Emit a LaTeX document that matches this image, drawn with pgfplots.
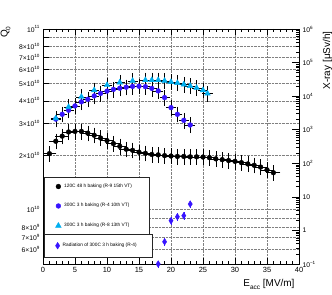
\documentclass[border=0pt]{standalone}
\usepackage{fontspec}
\setmainfont{Liberation Sans}
\usepackage{pgfplots}
\pgfplotsset{compat=1.18}
\definecolor{rblue}{RGB}{55,20,255}
\definecolor{rcyan}{RGB}{0,175,240}
\newcommand\sx[1]{\raisebox{0.45em}{\fontsize{4.6}{5}\selectfont #1}}
\newcommand\lf{\fontsize{4.8}{5.5}\selectfont}
\begin{document}
\begin{tikzpicture}
\useasboundingbox (0,0) rectangle (332bp,295bp);
\begin{axis}[
  at={(43bp,31bp)}, anchor=south west, width=256bp, height=235bp, scale only axis,
  xmin=0, xmax=40, ymode=log, ymin=5e9, ymax=1e11,
  xtick={0,5,...,40}, xticklabels={0,5,10,15,20,25,30,35,40},
  minor x tick num=4, xtick pos=both, xticklabel pos=lower,
  ytick pos=left,
  ytick={5e9,6e9,7e9,8e9,9e9,1e10,2e10,3e10,4e10,5e10,6e10,7e10,8e10,9e10,1e11},
  yticklabels={,6×10\sx{9},7×10\sx{9},8×10\sx{9},,10\sx{10},2×10\sx{10},3×10\sx{10},4×10\sx{10},5×10\sx{10},6×10\sx{10},7×10\sx{10},8×10\sx{10},,10\sx{11}},
  minor y tick style={draw=none},
  tick align=inside, major tick length=6bp, minor tick length=3bp,
  tick style={black, line width=0.6pt},
  axis line style={line width=0.9pt},
  xmajorgrids, ymajorgrids, grid style={densely dotted, black!50, line width=0.6pt},
  xticklabel style={font=\fontsize{7.5}{8}\selectfont},
  yticklabel style={font=\fontsize{6.8}{7}\selectfont},
  legend style={at={(0.004,0.370)}, anchor=north west, draw=black!85, line width=1pt,
    fill=white, inner xsep=11bp, inner ysep=6bp, row sep=13.5bp, font=\lf,
    nodes={inner sep=0.5bp},
    /tikz/every odd column/.append style={column sep=2.5bp}},
  legend cell align=left,
  legend image code/.code={\draw[#1, line width=0.4pt] plot coordinates {(0bp,0bp)};},
]
\addplot[only marks, mark=*, mark size=2.4bp, black, mark options={fill=black},
  error bars/.cd, y dir=both, y fixed relative=0.085, x dir=both, x fixed=0.9,
  error bar style={black, line width=0.6pt},
  error mark options={black, mark size=1.2bp, line width=0.6pt}]
coordinates {
(1,2.04e10) (2,2.39e10) (3,2.55e10) (4,2.69e10) (5,2.71e10) (6,2.71e10)
(7,2.65e10) (8,2.58e10) (9,2.49e10) (10,2.41e10) (11,2.32e10) (12,2.24e10)
(13,2.16e10) (14,2.13e10) (15,2.08e10) (16,2.05e10) (17,2.02e10) (18,2.01e10)
(19,1.99e10) (20,1.98e10) (21,1.97e10) (22,1.97e10) (23,1.96e10) (24,1.96e10)
(25,1.955e10) (26,1.94e10) (27,1.91e10) (28,1.89e10) (29,1.87e10) (30,1.85e10)
(31,1.82e10) (32,1.79e10) (33,1.76e10) (34,1.72e10) (35,1.66e10) (36,1.60e10)
};
\addlegendentry{\makebox[74bp][l]{120C 48 h baking (R-9 15th VT)}}
\addplot[only marks, mark=*, mark size=2.4bp, rblue, mark options={fill=rblue, draw=rblue},
  error bars/.cd, y dir=both, y fixed relative=0.085, x dir=both, x fixed=0.6,
  error bar style={black, line width=0.6pt},
  error mark options={black, mark size=1.2bp, line width=0.6pt}]
coordinates {
(2,3.17e10) (3,3.37e10) (4,3.55e10) (5,3.75e10) (6,3.95e10) (7,4.08e10)
(8,4.26e10) (9,4.40e10) (10,4.53e10) (11,4.63e10) (12,4.70e10) (13,4.76e10)
(14,4.81e10) (15,4.82e10) (16,4.79e10) (17,4.69e10) (18,4.54e10) (19,4.17e10)
(20,3.67e10) (21,3.37e10) (22,3.12e10) (23,2.94e10)
};
\addlegendentry{\makebox[74bp][l]{300C 3 h baking (R-4 10th VT)}}
\addplot[only marks, mark=triangle*, mark size=3.3bp, rcyan, mark options={fill=rcyan, draw=rcyan},
  error bars/.cd, y dir=both, y fixed relative=0.085, x dir=both, x fixed=0.6,
  error bar style={black, line width=0.6pt},
  error mark options={black, mark size=1.2bp, line width=0.6pt}]
coordinates {
(2,3.2e10) (4,3.70e10) (6,4.21e10) (8,4.58e10) (10,4.89e10) (12,5.06e10)
(14,5.16e10) (16,5.21e10) (17,5.21e10) (18,5.21e10) (19,5.16e10) (20,5.09e10)
(21,5.02e10) (22,4.93e10) (23,4.84e10) (24,4.72e10) (25,4.58e10) (25.7,4.39e10)
};
\addlegendentry{\makebox[74bp][l]{300C 3 h baking (R-8 13th VT)}}
\end{axis}
\begin{axis}[
  at={(43bp,31bp)}, anchor=south west, width=256bp, height=235bp, scale only axis,
  xmin=0, xmax=40, ymode=log, ymin=0.1, ymax=1e6,
  axis y line*=right, axis x line=none, clip=false,
  ytick={0.1,1,10,100,1000,10000,100000,1000000},
  yticklabels={10\sx{−1},1,10,10\sx{2},10\sx{3},10\sx{4},10\sx{5},10\sx{6}},
  minor ytick={0.2,0.3,0.4,0.5,0.6,0.7,0.8,0.9,2,3,4,5,6,7,8,9,20,30,40,50,60,70,80,90,200,300,400,500,600,700,800,900,2000,3000,4000,5000,6000,7000,8000,9000,20000,30000,40000,50000,60000,70000,80000,90000,200000,300000,400000,500000,600000,700000,800000,900000},
  tick align=inside, major tick length=7bp, minor tick length=3.5bp,
  tick style={black, line width=0.6pt},
  axis line style={line width=0.9pt},
  yticklabel style={font=\fontsize{6.8}{7}\selectfont},
  legend style={at={(0.004,0.128)}, anchor=north west, draw=black!85, line width=1pt,
    fill=white, inner xsep=11bp, inner ysep=8bp, font=\lf,
    nodes={inner sep=0.5bp},
    /tikz/every odd column/.append style={column sep=2.5bp}},
  legend cell align=left,
  legend image code/.code={\draw[#1, line width=0.4pt] plot coordinates {(0bp,0bp)};},
]
\addplot[only marks, mark=diamond*, mark size=3.3bp, rblue, mark options={fill=rblue, draw=rblue, xscale=0.85},
  error bars/.cd, y dir=both, y fixed relative=0.2,
  error bar style={rblue, line width=0.6pt},
  error mark options={rblue, mark size=0.8bp, line width=0.6pt}]
coordinates {
(18,0.1) (19,0.46) (20,1.95) (21,2.56) (22,2.75) (23,6.1)
};
\addlegendentry{\makebox[78bp][l]{Radiation of 300C 3 h baking (R-4)}}
\end{axis}
\node[rotate=90, anchor=base east, font=\fontsize{10}{12}\selectfont] at (7.5bp,272bp)
  {Q\raisebox{-0.3em}{\fontsize{6.5}{7}\selectfont 0}};
\node[anchor=base east, font=\fontsize{10}{12}\selectfont] at (298bp,8.5bp)
  {E\raisebox{-0.3em}{\fontsize{6.5}{7}\selectfont acc} [MV/m]};
\node[rotate=90, anchor=base east, font=\fontsize{10}{12}\selectfont] at (330bp,267bp)
  {X-ray [μSv/h]};
\end{tikzpicture}
\end{document}
